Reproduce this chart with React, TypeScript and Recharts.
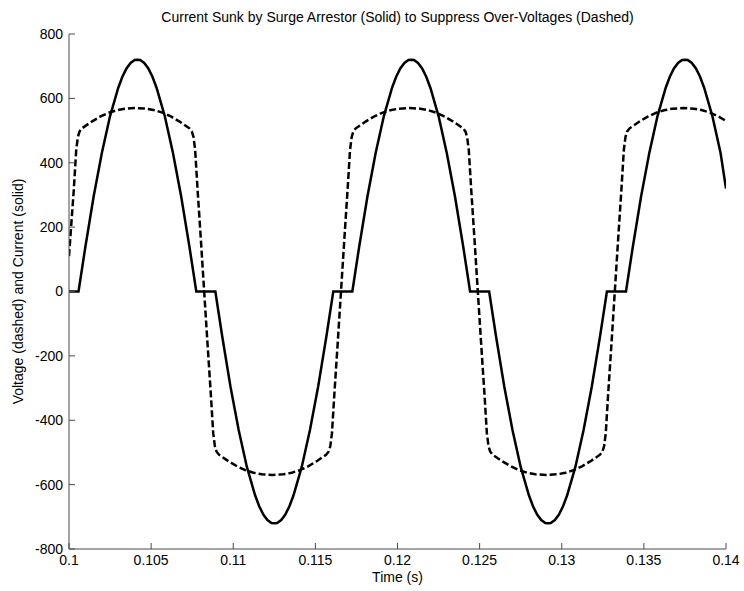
import { LineChart, Line, XAxis, YAxis } from 'recharts';

// solid trace: arrester current
const currentTime = [
  0.1, 0.10058, 0.101, 0.1015, 0.102, 0.1025, 0.103, 0.10325, 0.1035, 0.10375, 0.104, 0.10417,
  0.10433, 0.10458, 0.10483, 0.10508, 0.10533, 0.10583, 0.10633, 0.10683, 0.10733, 0.10775,
  0.10891, 0.10933, 0.10983, 0.11033, 0.11083, 0.11133, 0.11158, 0.11183, 0.11208, 0.11233, 0.1125,
  0.11267, 0.11292, 0.11317, 0.11342, 0.11367, 0.11417, 0.11467, 0.11517, 0.11567, 0.11609,
  0.11725, 0.11767, 0.11817, 0.11867, 0.11917, 0.11967, 0.11992, 0.12017, 0.12042, 0.12067, 0.12083,
  0.121, 0.12125, 0.1215, 0.12175, 0.122, 0.1225, 0.123, 0.1235, 0.124, 0.12442,
  0.12558, 0.126, 0.1265, 0.127, 0.1275, 0.128, 0.12825, 0.1285, 0.12875, 0.129, 0.12917,
  0.12933, 0.12958, 0.12983, 0.13008, 0.13033, 0.13083, 0.13133, 0.13183, 0.13233, 0.13275,
  0.13391, 0.13433, 0.13483, 0.13533, 0.13583, 0.13633, 0.13658, 0.13683, 0.13708, 0.13733, 0.1375,
  0.13767, 0.13792, 0.13817, 0.13842, 0.13867, 0.13917, 0.13967, 0.14,
];
const currentAmps = [
  0, 0, 140, 295, 430, 545, 633, 667, 693, 710, 719, 720,
  719, 710, 693, 667, 633, 545, 430, 295, 140, 0,
  0, -140, -295, -430, -545, -633, -667, -693, -710, -719, -720,
  -719, -710, -693, -667, -633, -545, -430, -295, -140, 0,
  0, 140, 295, 430, 545, 633, 667, 693, 710, 719, 720,
  719, 710, 693, 667, 633, 545, 430, 295, 140, 0,
  0, -140, -295, -430, -545, -633, -667, -693, -710, -719, -720,
  -719, -710, -693, -667, -633, -545, -430, -295, -140, 0,
  0, 140, 295, 430, 545, 633, 667, 693, 710, 719, 720,
  719, 710, 693, 667, 633, 545, 430, 320,
];

// dashed trace: clamped voltage
const voltageTime = [
  0.1, 0.10029, 0.10044, 0.10054, 0.10064, 0.10079, 0.10139, 0.10189, 0.10239, 0.10289, 0.10339, 0.10406,
  0.10473, 0.10523, 0.10573, 0.10623, 0.10673, 0.10733, 0.10748, 0.10758, 0.10768, 0.10783, 0.10803, 0.10823,
  0.10843, 0.10863, 0.10878, 0.10888, 0.10898, 0.10913, 0.10973, 0.11023, 0.11073, 0.11123, 0.11173, 0.1124,
  0.11306, 0.11356, 0.11406, 0.11456, 0.11506, 0.11566, 0.11581, 0.11591, 0.11601, 0.11616, 0.11636, 0.11656,
  0.11676, 0.11696, 0.11711, 0.11721, 0.11731, 0.11746, 0.11806, 0.11856, 0.11906, 0.11956, 0.12006, 0.12073,
  0.12139, 0.12189, 0.12239, 0.12289, 0.12339, 0.12399, 0.12414, 0.12424, 0.12434, 0.12449, 0.12469, 0.12489,
  0.12509, 0.12529, 0.12544, 0.12554, 0.12564, 0.12579, 0.12639, 0.12689, 0.12739, 0.12789, 0.12839, 0.12906,
  0.12973, 0.13023, 0.13073, 0.13123, 0.13173, 0.13233, 0.13248, 0.13258, 0.13268, 0.13283, 0.13303, 0.13323,
  0.13343, 0.13363, 0.13378, 0.13388, 0.13398, 0.13413, 0.13473, 0.13523, 0.13573, 0.13623, 0.13673, 0.1374,
  0.13806, 0.13856, 0.13906, 0.13956, 0.14,
];
const voltageVolts = [
  110, 315, 440, 480, 497, 507, 528, 543, 555, 563, 568, 570,
  568, 563, 555, 543, 528, 507, 497, 480, 440, 315, 160, 0,
  -160, -315, -440, -480, -497, -507, -528, -543, -555, -563, -568, -570,
  -568, -563, -555, -543, -528, -507, -497, -480, -440, -315, -160, 0,
  160, 315, 440, 480, 497, 507, 528, 543, 555, 563, 568, 570,
  568, 563, 555, 543, 528, 507, 497, 480, 440, 315, 160, 0,
  -160, -315, -440, -480, -497, -507, -528, -543, -555, -563, -568, -570,
  -568, -563, -555, -543, -528, -507, -497, -480, -440, -315, -160, 0,
  160, 315, 440, 480, 497, 507, 528, 543, 555, 563, 568, 570,
  568, 563, 555, 543, 530,
];

const timeTicks = [0.1, 0.105, 0.11, 0.115, 0.12, 0.125, 0.13, 0.135, 0.14];
const valueTicks = [-800, -600, -400, -200, 0, 200, 400, 600, 800];

const title = 'Current Sunk by Surge Arrestor (Solid) to Suppress Over-Voltages (Dashed)';

const currentData = currentTime.map((t, i) => ({ t, amps: currentAmps[i] }));
const voltageData = voltageTime.map((t, i) => ({ t, volts: voltageVolts[i] }));

const font = '"Liberation Sans", Arial, sans-serif';
const axisColor = '#4a4a4a';
const tickText = { fill: '#000', fontSize: 14, fontFamily: font };

export default function App() {
  return (
    <div style={{ position: 'absolute', left: 0, top: 0, width: 744, height: 591, background: '#fff' }}>
      <div
        style={{
          position: 'absolute',
          left: 69,
          top: 9,
          width: 657,
          textAlign: 'center',
          fontFamily: font,
          fontSize: 14,
          lineHeight: '16px',
          color: '#000',
          whiteSpace: 'nowrap',
        }}
      >
        {title}
      </div>
      <LineChart width={744} height={591} margin={{ top: 34, right: 18, bottom: 2, left: 0 }}>
        <XAxis
          xAxisId="bottom"
          dataKey="t"
          type="number"
          domain={[0.1, 0.14]}
          ticks={timeTicks}
          interval={0}
          allowDataOverflow
          height={40}
          stroke={axisColor}
          tickSize={-6}
          tickMargin={12}
          tick={tickText}
          label={{ value: 'Time (s)', position: 'insideBottom', offset: 7, fill: '#000', fontSize: 14, fontFamily: font }}
        />
        <XAxis
          xAxisId="top"
          orientation="top"
          dataKey="t"
          type="number"
          domain={[0.1, 0.14]}
          ticks={timeTicks}
          interval={0}
          allowDataOverflow
          height={0}
          stroke={axisColor}
          tickSize={-6}
          tickFormatter={() => ''}
        />
        <YAxis
          yAxisId="left"
          type="number"
          domain={[-800, 800]}
          ticks={valueTicks}
          interval={0}
          allowDataOverflow
          width={69}
          stroke={axisColor}
          tickSize={-6}
          tickMargin={12}
          tick={tickText}
          label={{
            value: 'Voltage (dashed) and Current (solid)',
            angle: -90,
            position: 'insideLeft',
            offset: 18,
            style: { textAnchor: 'middle' },
            fill: '#000',
            fontSize: 14,
            fontFamily: font,
          }}
        />
        <YAxis
          yAxisId="right"
          orientation="right"
          type="number"
          domain={[-800, 800]}
          ticks={valueTicks}
          interval={0}
          allowDataOverflow
          width={0}
          stroke={axisColor}
          tickSize={-6}
          tickFormatter={() => ''}
        />
        <Line
          data={voltageData}
          xAxisId="bottom"
          yAxisId="left"
          dataKey="volts"
          type="linear"
          stroke="#000"
          strokeWidth={2.5}
          strokeDasharray="7 3"
          dot={false}
          isAnimationActive={false}
        />
        <Line
          data={currentData}
          xAxisId="bottom"
          yAxisId="left"
          dataKey="amps"
          type="linear"
          stroke="#000"
          strokeWidth={2.5}
          dot={false}
          isAnimationActive={false}
        />
      </LineChart>
    </div>
  );
}
